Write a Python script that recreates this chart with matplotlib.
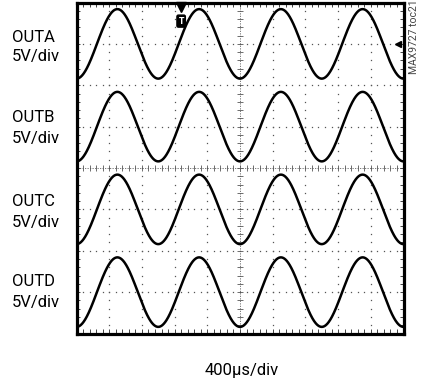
import matplotlib.pyplot as plt
import numpy as np

# Scope screen: 10 horizontal x 8 vertical divisions
channels = ["OUTA", "OUTB", "OUTC", "OUTD"]
volts_per_div = ["5V/div", "5V/div", "5V/div", "5V/div"]
trace_centers = [3.0, 1.0, -1.0, -3.0]  # divisions
trace_amplitude = 0.84  # divisions (peak)
period_div = 2.5  # 1 kHz at 400us/div
time_label = "400\u03bcs/div"

fig = plt.figure(figsize=(4.25, 3.87), dpi=100)
W, H = 425, 387
left, right, top, bottom = 76.5, 403.5, 2.5, 333.5
ax = fig.add_axes([left / W, (H - bottom) / H, (right - left) / W, (bottom - top) / H])
ax.set_xlim(0, 10)
ax.set_ylim(-4, 4)
ax.set_xticks([])
ax.set_yticks([])
for sp in ax.spines.values():
    sp.set_linewidth(2.3)
    sp.set_color("black")

# dotted graticule
step_x, step_y = 0.2, 0.2
xs = np.arange(0, 10.001, step_x)
ys = np.arange(-4, 4.001, step_y)
for gx in range(1, 10):
    if gx == 5:
        continue
    ax.plot(np.full_like(ys, gx), ys, ls="none", marker="s", ms=0.9,
            mfc="#555555", mec="none", zorder=1)
for gy in range(-3, 4):
    if gy == 0:
        continue
    ax.plot(xs, np.full_like(xs, gy), ls="none", marker="s", ms=0.9,
            mfc="#555555", mec="none", zorder=1)

# center crosshair with minor ticks
ax.plot([5, 5], [-4, 4], color="#666666", lw=0.6, ls=(0, (1.5, 1.5)), zorder=1)
ax.plot([0, 10], [0, 0], color="#666666", lw=0.6, ls=(0, (1.5, 1.5)), zorder=1)
ax.plot(np.full_like(ys, 5), ys, ls="none", marker="_", ms=4, mew=0.6,
        color="#555555", zorder=1)
ax.plot(xs, np.zeros_like(xs), ls="none", marker="|", ms=4, mew=0.6,
        color="#555555", zorder=1)

# edge ticks along the frame
ax.plot(np.full_like(ys, 0.05), ys, ls="none", marker="_", ms=3, mew=0.7,
        color="#444444", zorder=1)
ax.plot(np.full_like(ys, 9.95), ys, ls="none", marker="_", ms=3, mew=0.7,
        color="#444444", zorder=1)
ax.plot(xs, np.full_like(xs, 3.94), ls="none", marker="|", ms=3, mew=0.7,
        color="#444444", zorder=1)
ax.plot(xs, np.full_like(xs, -3.94), ls="none", marker="|", ms=3, mew=0.7,
        color="#444444", zorder=1)

# traces
t = np.linspace(0, 10, 1200)
for c in trace_centers:
    ax.plot(t, c - trace_amplitude * np.cos(2 * np.pi * t / period_div),
            color="black", lw=1.8, zorder=3, solid_capstyle="butt")

# trigger and ground markers
ax.plot(3.2, 3.9, marker="v", ms=6.5, color="black", clip_on=False, zorder=4)
ax.text(3.2, 3.55, "T", ha="center", va="center", fontsize=5.5, color="white",
        fontweight="bold",
        bbox=dict(boxstyle="round,pad=0.2", fc="black", ec="black"), zorder=4)
ax.plot(9.84, 3.0, marker="<", ms=4.5, color="black", zorder=4)

# channel labels
font = ["Roboto", "DejaVu Sans"]
label_y = [37, 118, 202, 282]
for name, scale, ly in zip(channels, volts_per_div, label_y):
    fig.text(12 / W, 1 - ly / H, name, ha="left", va="center", fontsize=12,
             family=font)
    fig.text(12 / W, 1 - (ly + 20) / H, scale, ha="left", va="center",
             fontsize=12, family=font)

fig.text(242 / W, 1 - 370 / H, time_label, ha="center", va="center",
         fontsize=12, family=font)
fig.text(414 / W, 1 - 37 / H, "MAX9727 toc21", rotation=90, ha="center",
         va="center", fontsize=7.5, color="#444444", family=font)

fig.savefig("out.png", dpi=100)
